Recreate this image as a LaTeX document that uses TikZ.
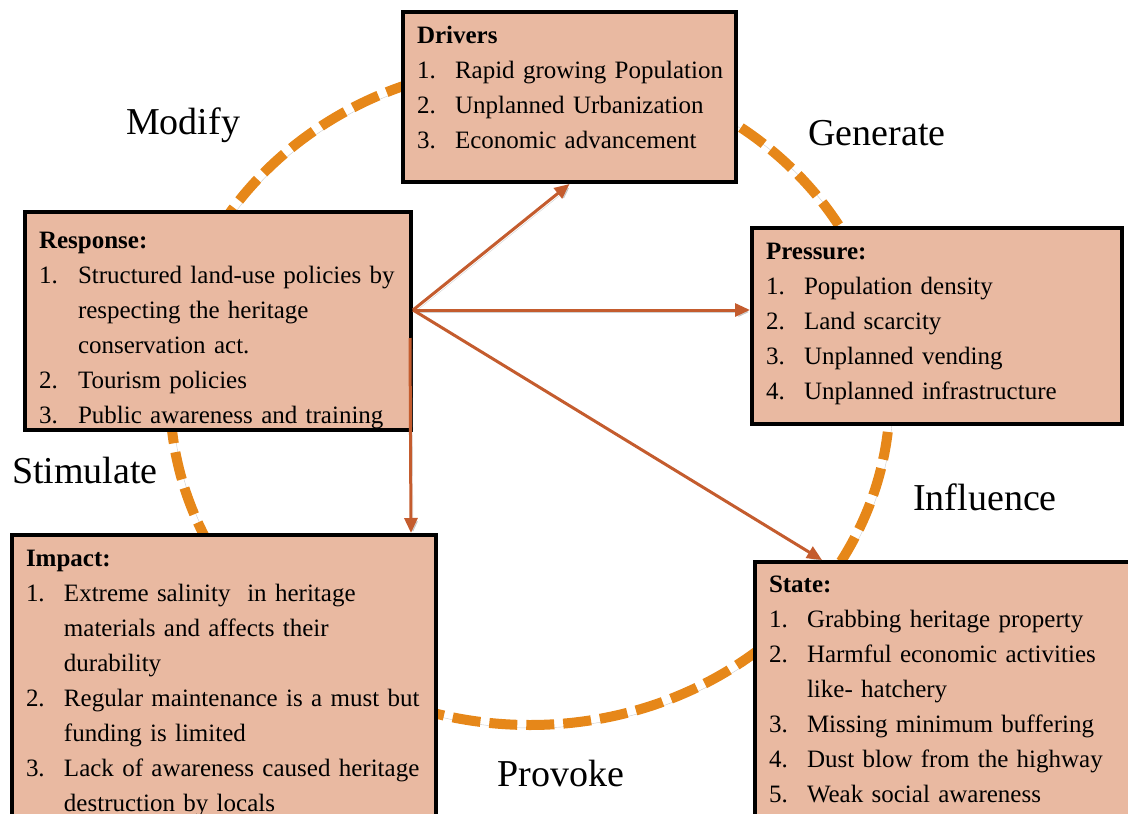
\documentclass[tikz,border=0pt]{standalone}
\usepackage{fontspec}
\setmainfont{Liberation Serif}
\usepackage{tikz}
\usetikzlibrary{calc,arrows.meta}
\definecolor{boxfill}{RGB}{233,185,161}
\definecolor{ringorange}{RGB}{230,135,25}
\definecolor{linkbrown}{RGB}{196,92,46}
\tikzset{
	dpsir/.style={draw=black, line width=4pt, fill=boxfill, anchor=north west, inner xsep=14pt, inner ysep=0pt, align=left, font=\fontsize{25}{35}\selectfont},
	phase/.style={font=\fontsize{38}{42}\selectfont},
	ring/.style={draw=ringorange, line width=10pt, dash pattern=on 28pt off 9pt, preaction={draw=black!45, opacity=.45, transform canvas={shift={(3pt,-3pt)}}}},
	link/.style={draw=linkbrown, line width=3pt, -{Triangle[length=15pt,width=13pt]}, preaction={draw=black!45, opacity=.4, transform canvas={shift={(2pt,-2pt)}}}}
}

\begin{document}
\begin{tikzpicture}[x=1pt, y=-1pt]
		%%%%% START %%%%%
		\useasboundingbox (0, 0) rectangle (1128, 814);
		
		\draw[ring] (530, 395) ellipse [x radius=360, y radius=330];
		
		\node[dpsir, text width=305pt, text height=31pt, text depth=139pt] (drivers) at (401, 10) {%
			\begin{tabular}[t]{@{}p{38pt}@{}l@{}}
				\multicolumn{2}{@{}l}{\textbf{Drivers}}\\
				1. & Rapid growing Population\\
				2. & Unplanned Urbanization\\
				3. & Economic advancement
		\end{tabular}};
		
		\node[dpsir, text width=358pt, text height=36pt, text depth=182pt] (response) at (23, 210) {%
			\begin{tabular}[t]{@{}p{39pt}@{}l@{}}
				\multicolumn{2}{@{}l}{\textbf{Response:}}\\
				1. & Structured land-use policies by\\
				& respecting the heritage\\
				& conservation act.\\
				2. & Tourism policies\\
				3. & Public awareness and training
		\end{tabular}};
		
		\node[dpsir, text width=342pt, text height=31pt, text depth=165pt] (pressure) at (750, 226) {%
			\begin{tabular}[t]{@{}p{38pt}@{}l@{}}
				\multicolumn{2}{@{}l}{\textbf{Pressure:}}\\
				1. & Population density\\
				2. & Land scarcity\\
				3. & Unplanned vending\\
				4. & Unplanned infrastructure
		\end{tabular}};
		
		\node[dpsir, text width=396pt, text height=31pt, text depth=272pt] (impact) at (10, 533) {%
			\begin{tabular}[t]{@{}p{38pt}@{}l@{}}
				\multicolumn{2}{@{}l}{\textbf{Impact:}}\\
				1. & Extreme salinity\ \ in heritage\\
				& materials and affects their\\
				& durability\\
				2. & Regular maintenance is a must but\\
				& funding is limited\\
				3. & Lack of awareness caused heritage\\
				& destruction by locals
		\end{tabular}};
		
		\node[dpsir, text width=360pt, text height=30pt, text depth=250pt] (state) at (753, 560) {%
			\begin{tabular}[t]{@{}p{38pt}@{}l@{}}
				\multicolumn{2}{@{}l}{\textbf{State:}}\\
				1. & Grabbing heritage property\\
				2. & Harmful economic activities\\
				& like- hatchery\\
				3. & Missing minimum buffering\\
				4. & Dust blow from the highway\\
				5. & Weak social awareness
		\end{tabular}};
		
		% phase words round the ring
		\node[phase] (modify) at (183, 125) {Modify};
		\node[phase] (generate) at (877, 133) {Generate};
		\node[phase] (stimulate) at (85, 470) {Stimulate};
		\node[phase] (influence) at (985, 497) {Influence};
		\node[phase] (provoke) at (561, 773) {Provoke};
		
		% links out of the response box
		\coordinate (hub) at ([yshift=11pt]response.east);
		\coordinate (drop) at ([xshift=-3pt, yshift=-17pt]response.east);
		\draw[link] (hub) -- (drivers.south);
		\draw[link] (hub) -- (hub -| pressure.west);
		\draw[link] (hub) -- ([xshift=69pt]state.north west);
		\draw[link] (drop) -- ([xshift=401pt]impact.north west);
		
		%%%%% END %%%%%
	\end{tikzpicture}
\end{document}
